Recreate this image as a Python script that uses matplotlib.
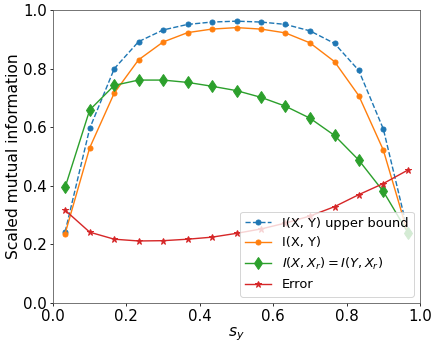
import numpy as np
import matplotlib
matplotlib.use("Agg")
import matplotlib.pyplot as plt

# data
s_y = [0.033, 0.1, 0.167, 0.233, 0.3, 0.367, 0.433, 0.5,
       0.567, 0.633, 0.7, 0.767, 0.833, 0.9, 0.967]
upper_bound = [0.243, 0.596, 0.800, 0.892, 0.932, 0.951, 0.959, 0.962,
               0.959, 0.951, 0.929, 0.886, 0.794, 0.594, 0.243]
mi_xy = [0.237, 0.530, 0.717, 0.830, 0.891, 0.923, 0.935, 0.940,
         0.935, 0.922, 0.888, 0.824, 0.708, 0.522, 0.237]
mi_xr = [0.395, 0.659, 0.743, 0.761, 0.761, 0.753, 0.740, 0.725,
         0.702, 0.672, 0.631, 0.572, 0.488, 0.381, 0.240]
error = [0.317, 0.242, 0.218, 0.212, 0.213, 0.218, 0.225, 0.238,
         0.253, 0.273, 0.297, 0.329, 0.370, 0.408, 0.454]

# rendered at 72 dpi so sizes in pt == px
plt.rcParams['font.size'] = 15
plt.rcParams['xtick.major.size'] = 3.3
plt.rcParams['ytick.major.size'] = 3.3
plt.rcParams['xtick.major.pad'] = 2.5
plt.rcParams['ytick.major.pad'] = 2.5
plt.rcParams['axes.edgecolor'] = '#555555'

fig = plt.figure(figsize=(438 / 72, 346 / 72), dpi=72)
ax = fig.add_axes([0.121, 0.124, 0.838, 0.847])

ax.plot(s_y, upper_bound, '--o', color='C0', markersize=5, lw=1.4, label='I(X, Y) upper bound')
ax.plot(s_y, mi_xy, '-o', color='C1', markersize=5, lw=1.4, label='I(X, Y)')
ax.plot(s_y, mi_xr, '-d', color='C2', markersize=9, lw=1.4, label=r'$I(X, X_r) = I(Y, X_r)$')
ax.plot(s_y, error, '-*', color='C3', markersize=7, lw=1.4, label='Error')

ax.set_xlim(0, 1)
ax.set_ylim(0, 1)
ax.set_xlabel(r'$s_y$', fontsize=15.5, labelpad=2)
ax.set_ylabel('Scaled mutual information', fontsize=15.5, labelpad=2)
ax.legend(loc='lower right', fontsize=13)

plt.savefig('out.png', dpi=72)
